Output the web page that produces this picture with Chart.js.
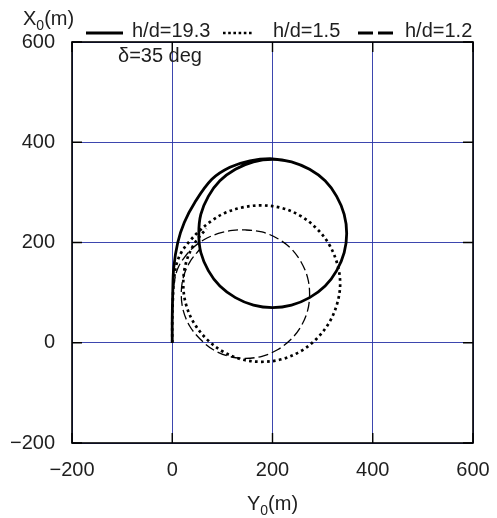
<!DOCTYPE html>
<html>
<head>
<meta charset="utf-8">
<script src="https://cdn.jsdelivr.net/npm/chart.js@4/dist/chart.umd.min.js"></script>
<style>
html,body{margin:0;padding:0;background:#fff;}
#c{display:block;}
</style>
</head>
<body>
<canvas id="c" width="497" height="518"></canvas>
<script>
// Tick values
const xTicks = [-200, 0, 200, 400, 600];
const yTicks = [-200, 0, 200, 400, 600];

// Series labels
const seriesLabels = ['h/d=19.3', 'h/d=1.5', 'h/d=1.2'];

// h/d=19.3 (solid) : Y0 (horizontal) and X0 (vertical), metres
const solidY0 = [0,0,1,3,11,24,45,79,115,155,200,238,274,305,328,343,348,343,328,305,274,238,200,162,126,95,72,57,53,57,72,95,126,162,200,238];
const solidX0 = [0,50,100,150,200,240,280,326,350,363,367,361,346,323,292,256,218,180,144,113,90,75,70,75,90,113,144,180,218,256,292,323,346,361,366,361];

// h/d=1.5 (dotted)
const dotY0 = [0,0,1,3,8,18,35,55,78,105,140,178,218,256,288,313,329,335,329,313,288,256,218,178,138,100,68,43,27,22,27,43,68];
const dotX0 = [0,40,80,120,155,180,203,224,243,259,270,274,269,253,228,196,158,118,78,40,8,-17,-33,-38,-33,-17,8,40,78,118,158,196,228];

// h/d=1.2 (dashed)
const dashY0 = [0,0,1,4,11,24,42,64,92,120,146,179,210,237,257,270,274,270,257,237,210,179,146,113,82,56,35,22,18,22,35,56];
const dashX0 = [0,40,80,120,148,170,190,206,218,224,225,221,208,188,161,130,97,64,33,7,-14,-27,-31,-27,-14,7,33,64,97,130,161,188];

const pts = (xs, ys) => xs.map((x, i) => ({x: x, y: ys[i]}));

const FONT = '"Liberation Sans", Arial, Helvetica, sans-serif';
const TXT = '#1e1e1e';
const GRID = 'rgba(40,50,165,0.9)';

const decor = {
  id: 'decor',
  afterDraw(chart) {
    const ctx = chart.ctx;
    const a = chart.chartArea;
    const xs = chart.scales.x, ys = chart.scales.y;
    ctx.save();
    // box
    ctx.strokeStyle = '#000';
    ctx.lineWidth = 1.6;
    ctx.setLineDash([]);
    ctx.strokeRect(a.left, a.top, a.right - a.left, a.bottom - a.top);
    // inward tick marks
    ctx.lineWidth = 1.4;
    ctx.beginPath();
    xTicks.forEach(v => {
      const px = xs.getPixelForValue(v);
      ctx.moveTo(px, a.bottom); ctx.lineTo(px, a.bottom - 10);
      ctx.moveTo(px, a.top); ctx.lineTo(px, a.top + 10);
    });
    yTicks.forEach(v => {
      const py = ys.getPixelForValue(v);
      ctx.moveTo(a.left, py); ctx.lineTo(a.left + 10, py);
      ctx.moveTo(a.right, py); ctx.lineTo(a.right - 10, py);
    });
    ctx.stroke();

    ctx.fillStyle = TXT;
    ctx.textBaseline = 'alphabetic';
    ctx.textAlign = 'left';
    // X0(m) axis title (top-left)
    ctx.font = '20px ' + FONT;
    ctx.fillText('X', 23, 25);
    let w = ctx.measureText('X').width;
    ctx.font = '14px ' + FONT;
    ctx.fillText('0', 23 + w, 30);
    let w2 = ctx.measureText('0').width;
    ctx.font = '20px ' + FONT;
    ctx.fillText('(m)', 23 + w + w2, 25);

    // Y0(m) axis title (bottom)
    ctx.font = '20px ' + FONT;
    const wy = ctx.measureText('Y').width;
    const wm = ctx.measureText('(m)').width;
    ctx.font = '14px ' + FONT;
    const w0 = ctx.measureText('0').width;
    const total = wy + w0 + wm;
    const sx = (a.left + a.right) / 2 - total / 2;
    ctx.font = '20px ' + FONT;
    ctx.fillText('Y', sx, 510);
    ctx.font = '14px ' + FONT;
    ctx.fillText('0', sx + wy, 515);
    ctx.font = '20px ' + FONT;
    ctx.fillText('(m)', sx + wy + w0, 510);

    // delta annotation
    ctx.font = '20px ' + FONT;
    ctx.fillText('\u03B4=35 deg', 118, 62);

    // legend
    const ly = 33;
    ctx.strokeStyle = '#000';
    ctx.lineWidth = 3;
    ctx.setLineDash([]);
    ctx.beginPath(); ctx.moveTo(86, ly); ctx.lineTo(123, ly); ctx.stroke();
    ctx.lineWidth = 2.6;
    ctx.setLineDash([2.6, 2.6]);
    ctx.beginPath(); ctx.moveTo(223, ly); ctx.lineTo(254, ly); ctx.stroke();
    ctx.lineWidth = 3;
    ctx.setLineDash([15, 5]);
    ctx.beginPath(); ctx.moveTo(358, ly); ctx.lineTo(393, ly); ctx.stroke();
    ctx.setLineDash([]);
    ctx.font = '20px ' + FONT;
    ctx.fillText(seriesLabels[0], 132, 37);
    ctx.fillText(seriesLabels[1], 273, 37);
    ctx.fillText(seriesLabels[2], 405, 37);
    ctx.restore();
  }
};

new Chart(document.getElementById('c'), {
  type: 'scatter',
  data: {
    datasets: [
      { label: seriesLabels[0], data: pts(solidY0, solidX0), showLine: true, borderColor: '#000', borderWidth: 2.8, pointRadius: 0, tension: 0.35, fill: false },
      { label: seriesLabels[1], data: pts(dotY0, dotX0), showLine: true, borderColor: '#000', borderWidth: 2.7, borderDash: [2.7, 3.3], pointRadius: 0, tension: 0.35, fill: false },
      { label: seriesLabels[2], data: pts(dashY0, dashX0), showLine: true, borderColor: '#000', borderWidth: 1.3, borderDash: [10, 4], pointRadius: 0, tension: 0.35, fill: false }
    ]
  },
  options: {
    responsive: false,
    animation: false,
    devicePixelRatio: 1,
    layout: { padding: { left: 0, right: 24, top: 42, bottom: 0 } },
    plugins: { legend: { display: false }, tooltip: { enabled: false }, title: { display: false } },
    scales: {
      x: {
        type: 'linear', min: -200, max: 600,
        afterBuildTicks: s => { s.ticks = xTicks.map(v => ({value: v})); },
        afterFit: s => { s.height = 75; s.paddingLeft = 0; s.paddingRight = 0; },
        grid: { color: GRID, lineWidth: 1, drawTicks: false },
        border: { display: false },
        ticks: { padding: 15, color: TXT, font: { family: FONT, size: 20 }, maxRotation: 0,
          callback: v => (v < 0 ? '\u2212' + Math.abs(v) : '' + v) }
      },
      y: {
        type: 'linear', min: -200, max: 600,
        afterBuildTicks: s => { s.ticks = yTicks.map(v => ({value: v})); },
        afterFit: s => { s.width = 72; s.paddingTop = 0; s.paddingBottom = 0; },
        grid: { color: GRID, lineWidth: 1, drawTicks: false },
        border: { display: false },
        ticks: { padding: 17, color: TXT, font: { family: FONT, size: 20 },
          callback: v => (v < 0 ? '\u2212' + Math.abs(v) : '' + v) }
      }
    }
  },
  plugins: [decor]
});
</script>
</body>
</html>
